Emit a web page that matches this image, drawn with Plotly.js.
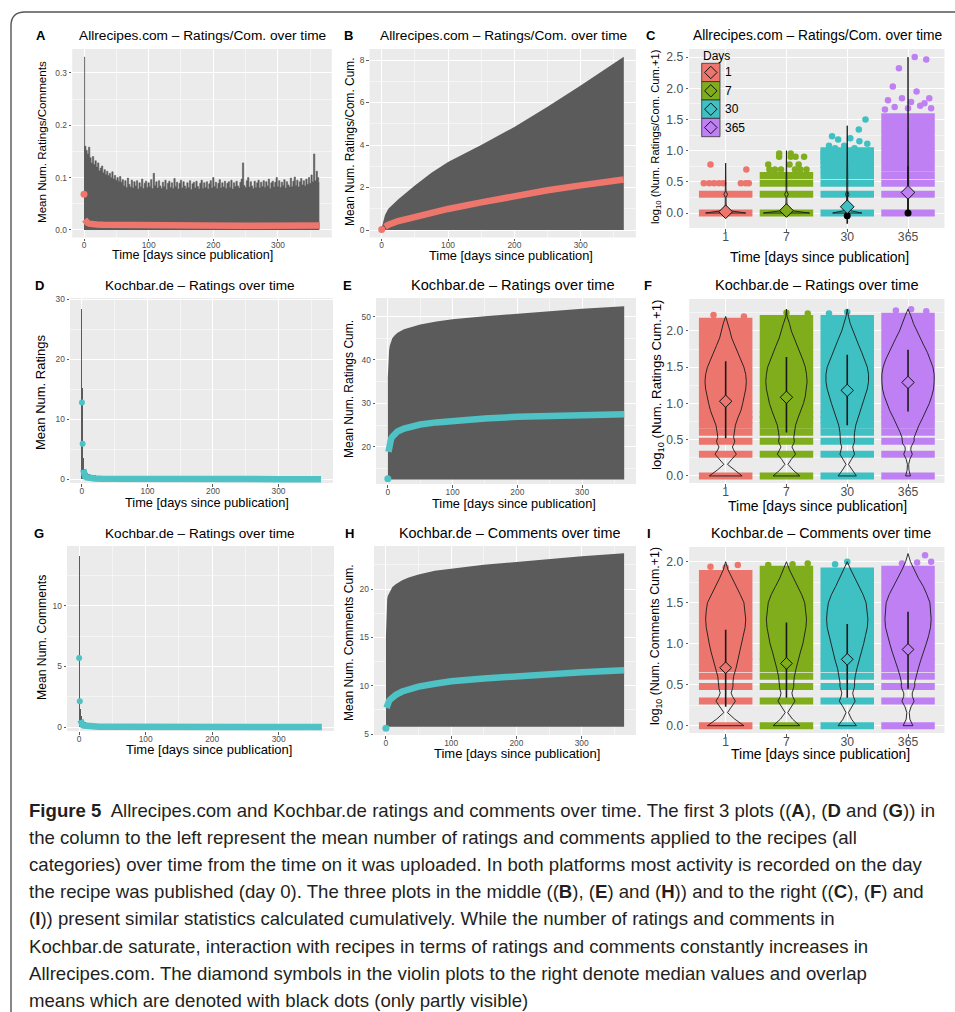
<!DOCTYPE html>
<html><head><meta charset="utf-8">
<script src="https://cdn.plot.ly/plotly-3.0.1.min.js"></script>
<style>html,body{margin:0;padding:0;background:#fff}</style>
</head><body><div id="chart" style="width:955px;height:1012px"></div>
<script>
// ================= DATA =================
// Panel A: Allrecipes mean ratings/comments per day (gray = upper range, red = mean)
const aGrayStep = 2; // days per gray value
const aGray = [
 0.33,0.16,0.152,0.145,0.158,0.138,0.128,0.14,0.125,0.132,
 0.12,0.128,0.113,0.118,0.122,0.109,0.115,0.106,0.112,0.104,
 0.108,0.1,0.111,0.097,0.104,0.095,0.1,0.093,0.102,0.091,
 0.096,0.084,0.094,0.081,0.099,0.087,0.082,0.095,0.08,0.092,
 0.084,0.094,0.078,0.09,0.082,0.097,0.079,0.089,0.093,0.081,
 0.09,0.083,0.096,0.079,0.108,0.085,0.092,0.08,0.094,0.084,
 0.079,0.091,0.083,0.095,0.077,0.089,0.093,0.081,0.09,0.079,
 0.098,0.083,0.091,0.078,0.089,0.095,0.08,0.092,0.084,0.079,
 0.09,0.081,0.094,0.077,0.088,0.091,0.08,0.093,0.083,0.078,
 0.089,0.095,0.079,0.09,0.081,0.092,0.078,0.088,0.094,0.08,
 0.1,0.083,0.091,0.079,0.089,0.096,0.08,0.09,0.082,0.093,
 0.079,0.089,0.092,0.081,0.095,0.078,0.09,0.083,0.093,0.084,
 0.08,0.091,0.097,0.128,0.085,0.081,0.094,0.1,0.082,0.092,
 0.084,0.079,0.093,0.081,0.09,0.095,0.08,0.091,0.083,0.094,
 0.081,0.092,0.084,0.097,0.079,0.09,0.093,0.082,0.091,0.1,
 0.083,0.094,0.081,0.091,0.085,0.096,0.08,0.092,0.086,0.082,
 0.099,0.083,0.093,0.101,0.085,0.095,0.082,0.092,0.098,0.086,
 0.094,0.084,0.097,0.087,0.1,0.089,0.105,0.092,0.145,0.094,
 0.112,0.1,0.09];
const aMeanDays = [0,1,2,3,5,8,12,20,30,50,80,120,180,250,320,365];
const aMean = [0.068,0.02,0.018,0.016,0.014,0.012,0.011,0.0105,0.0098,0.0092,0.0088,0.0085,0.0082,0.008,0.008,0.0082];

// Panel B: Allrecipes cumulative
const bDays = [0,5,10,25,50,75,100,150,200,250,300,365];
const bUpper = [0.1,0.7,1.0,1.45,2.1,2.7,3.2,4.0,4.85,5.8,6.8,8.15];
const bMean = [0.02,0.15,0.25,0.42,0.63,0.82,0.99,1.3,1.6,1.87,2.1,2.38];
const bBase = 0;

// Panel D: Kochbar ratings per day
const dGrayDays = [0,1,2,3,4,5,6,8,10,12,15,20];
const dGray = [28.3,15.2,3.6,2.2,1.7,1.4,1.2,1.0,0.9,0.85,0.75,0.7];
const dMeanDays = [0,1,2,3,4,5,7,10,15,20,30,50,100,150,200,250,300,365];
const dMean = [12.8,5.9,1.6,0.9,0.6,0.45,0.33,0.25,0.18,0.14,0.1,0.07,0.05,0.04,0.03,0.03,0.02,0.02];

// Panel G: Kochbar comments per day
const gGrayDays = [0,1,2,3,4,5,6,8,10,12,15,20];
const gGray = [14.1,5.0,1.5,0.9,0.7,0.6,0.5,0.45,0.4,0.35,0.3,0.3];
const gMeanDays = [0,1,2,3,4,5,7,10,15,20,30,50,100,150,200,250,300,365];
const gMean = [5.7,2.15,0.6,0.35,0.25,0.2,0.15,0.12,0.09,0.07,0.05,0.04,0.03,0.02,0.02,0.02,0.02,0.02];

// Panel E: Kochbar ratings cumulative
const eDays = [0,1,2,3,5,7,10,15,25,35,50,75,100,150,200,250,300,365];
const eUpper = [36,40,42.3,43.3,44.4,45,45.6,46.3,47.1,47.6,48.2,48.9,49.4,50.1,50.7,51.2,51.8,52.4];
const eMean = [12.6,18.8,20.3,21.0,21.8,22.3,22.9,23.5,24.2,24.6,25.1,25.6,26.0,26.5,26.9,27.1,27.3,27.5];
const eBase = 12.4;

// Panel H: Kochbar comments cumulative
const hDays = [0,1,2,3,5,7,10,15,25,35,50,75,100,150,200,250,300,365];
const hUpper = [15,18.3,19.0,19.3,19.6,19.9,20.2,20.5,20.9,21.2,21.5,21.9,22.1,22.5,22.8,23.1,23.4,23.7];
const hMean = [5.6,7.7,8.1,8.3,8.45,8.6,8.8,9.05,9.4,9.65,9.9,10.2,10.45,10.75,11.0,11.2,11.4,11.6];
const hBase = 5.75;

// Violin panels: categories
const cats = ['1','7','30','365'];
const catColors = ['#EC766D','#80AD1C','#3FC0C3','#BF80F4'];

// Panel C
const cBands = [[0,0.301],[0,0.301,0.477,0.602],[0,0.301,0.477,0.602,0.699,0.778,0.845,0.903,0.954,1.0],[0,0.301,0.477,0.602]];
const cBlockLo = [null,null,null,0.66];
const cBlockHi = [null,null,null,1.6];
const cDotCat = [1,1,1,1,1,1,1,1,1,1, 2,2,2,2,2,2,2,2,2,2,2,2,2,2,2, 3,3,3,3,3,3,3,3,3,3,3,3, 4,4,4,4,4,4,4,4,4,4,4,4,4,4,4];
const cDotDx = [-0.36,-0.27,-0.19,-0.11,-0.04,0.25,0.33,0.38,-0.25,0.34, -0.28,-0.19,-0.09,0.14,0.23,0.33,-0.3,0.05,0.2,-0.12,0.07,0.15,0.29,-0.12,0.07, -0.25,0.05,0.19,0.3,-0.15,0.2,0.33,-0.3,-0.05,0.12,-0.2,0.36, -0.15,0.11,0.3,-0.25,0.14,0.35,-0.33,-0.1,0.05,0.2,-0.22,0.38,-0.38,0.0,0.27];
const cDotY = [0.477,0.477,0.477,0.477,0.477,0.477,0.477,0.477,0.778,0.699, 0.699,0.699,0.699,0.699,0.699,0.699,0.778,0.778,0.778,0.903,0.903,0.903,0.903,0.954,0.954, 1.23,1.2,1.34,1.5,1.18,1.15,1.11,1.08,1.08,1.04,1.04,1.0, 2.32,2.5,2.46,2.03,1.95,1.84,1.81,1.84,1.78,1.72,1.7,1.68,1.66,1.68,1.76];
const cVy = [0,0.04,0.1,0.25,0.3,0.35,0.5,0.8,1.0,1.4,2.0,2.5];
const cVw = [
 [0.33,0.05,0.008,0.006,0.03,0.006,0.004,0,0,0,0,0],
 [0.38,0.06,0.01,0.006,0.03,0.006,0.006,0.004,0,0,0,0],
 [0.24,0.04,0.01,0.006,0.028,0.008,0.008,0.006,0.004,0,0,0],
 [0.02,0.006,0.005,0.005,0.025,0.008,0.01,0.008,0.006,0.004,0.002,0]];
const cLo = [-0.02,-0.03,-0.17,0.0];
const cHi = [0.12,0.15,0.35,0.75];
const cMed = [0.02,0.04,0.1,0.33];
const cMeanPt = [0.0,0.01,-0.045,0.0];

// Panel F
const fBands = [0,0.301,0.477,0.602,0.699,0.778,0.845];
const fBlockLo = [0.87,0.87,0.87,0.87];
const fBlockHi = [2.18,2.22,2.22,2.25];
const fDotCat = [1,1,2,2,3,3,4,4,4];
const fDotDx = [-0.2,0.3,0.0,0.35,0.0,-0.3,0.05,-0.2,0.3];
const fDotY = [2.22,2.2,2.25,2.24,2.26,2.24,2.3,2.28,2.27];
const fVy = [0,0.08,0.16,0.23,0.3,0.36,0.4,0.45,0.48,0.53,0.6,0.7,0.8,0.9,1.0,1.1,1.2,1.3,1.4,1.5,1.6,1.7,1.8,1.9,2.0,2.1,2.2,2.3];
const fVw = [
 [0.27,0.14,0.03,0.1,0.175,0.13,0.11,0.14,0.15,0.13,0.14,0.16,0.2,0.25,0.28,0.31,0.33,0.34,0.33,0.3,0.25,0.2,0.15,0.1,0.07,0.04,0,0],
 [0.22,0.11,0.025,0.08,0.15,0.11,0.09,0.12,0.13,0.12,0.13,0.15,0.19,0.24,0.28,0.31,0.33,0.34,0.33,0.31,0.27,0.22,0.17,0.12,0.08,0.05,0.01,0],
 [0.15,0.08,0.02,0.07,0.12,0.1,0.09,0.11,0.12,0.115,0.12,0.14,0.18,0.22,0.26,0.3,0.33,0.35,0.35,0.33,0.29,0.24,0.19,0.14,0.09,0.05,0.02,0],
 [0.04,0.015,0.01,0.03,0.07,0.045,0.05,0.09,0.1,0.1,0.13,0.18,0.24,0.3,0.35,0.39,0.42,0.43,0.43,0.41,0.37,0.32,0.26,0.2,0.14,0.09,0.05,0]];
const fLo = [0.52,0.60,0.70,0.89];
const fHi = [1.58,1.64,1.67,1.74];
const fMed = [1.03,1.085,1.18,1.29];

// Panel I
const iBands = [0,0.301,0.477,0.602,0.699,0.778,0.845];
const iBlockLo = [0.88,0.88,0.88,0.88];
const iBlockHi = [1.9,1.95,1.93,1.95];
const iDotCat = [1,1,1,2,2,2,3,3,4,4,4,4];
const iDotDx = [-0.25,0.0,0.2,0.1,-0.3,0.35,0.0,-0.2,0.28,0.38,-0.1,0.15];
const iDotY = [1.94,1.93,1.96,1.97,1.96,1.98,2.0,1.97,2.08,2.0,1.98,1.99];
const iVy = [0,0.08,0.16,0.23,0.3,0.36,0.4,0.45,0.48,0.53,0.6,0.7,0.8,0.9,1.0,1.1,1.2,1.3,1.4,1.5,1.6,1.7,1.8,1.9,2.0,2.1];
const iVw = [
 [0.3,0.15,0.03,0.09,0.16,0.11,0.09,0.11,0.12,0.12,0.13,0.17,0.2,0.24,0.27,0.3,0.32,0.33,0.32,0.3,0.24,0.17,0.1,0.04,0,0],
 [0.22,0.1,0.02,0.08,0.14,0.1,0.09,0.11,0.12,0.12,0.13,0.16,0.19,0.23,0.27,0.3,0.32,0.33,0.32,0.3,0.25,0.18,0.11,0.05,0,0],
 [0.15,0.07,0.02,0.07,0.13,0.1,0.09,0.11,0.12,0.12,0.13,0.16,0.2,0.24,0.27,0.3,0.33,0.34,0.33,0.31,0.26,0.19,0.12,0.06,0,0],
 [0.08,0.03,0.02,0.05,0.1,0.07,0.07,0.1,0.11,0.11,0.13,0.17,0.21,0.26,0.3,0.34,0.37,0.38,0.37,0.36,0.31,0.25,0.17,0.1,0.04,0]];
const iLo = [0.23,0.34,0.34,0.45];
const iHi = [1.17,1.26,1.24,1.39];
const iMed = [0.707,0.76,0.81,0.93];

// Text
const xTitle = 'Time [days since publication]';
const captionLines = [
 '<b>Figure 5</b>  Allrecipes.com and Kochbar.de ratings and comments over time. The first 3 plots ((<b>A</b>), (<b>D</b> and (<b>G</b>)) in',
 'the column to the left represent the mean number of ratings and comments applied to the recipes (all',
 'categories) over time from the time on it was uploaded. In both platforms most activity is recorded on the day',
 'the recipe was published (day 0). The three plots in the middle ((<b>B</b>), (<b>E</b>) and (<b>H</b>)) and to the right ((<b>C</b>), (<b>F</b>) and',
 '(<b>I</b>)) present similar statistics calculated cumulatively. While the number of ratings and comments in',
 'Kochbar.de saturate, interaction with recipes in terms of ratings and comments constantly increases in',
 'Allrecipes.com. The diamond symbols in the violin plots to the right denote median values and overlap',
 'means which are denoted with black dots (only partly visible)'];

// ================= LAYOUT HELPERS =================
const W = 955, H = 1012;
const px = x => x / W;
const py = y => 1 - y / H;
const GRAY = '#5b5b5b', RED = '#EF766D', CYAN = '#4FC2C5';
const FONT = 'Liberation Sans, Arial, Helvetica, sans-serif';

const panels = [
 {k:'A', box:[72.2,331.8,49,237.5], yr:[-0.0145,0.3455], dt:0.1, mn:0.05, fmt:'.1f', v:false},
 {k:'B', box:[369.6,635.9,49,237.5], yr:[-0.353,8.518], dt:2, mn:1, fmt:'', v:false},
 {k:'C', box:[689.2,944.5,49,228], yr:[-0.24,2.63], dt:0.5, mn:0.25, fmt:'.1f', v:true},
 {k:'D', box:[70,333,298,483], yr:[-0.62,30.2], dt:10, mn:5, fmt:'', v:false},
 {k:'E', box:[376,636,298,484], yr:[11.39,54.3], dt:10, mn:5, fmt:'', v:false},
 {k:'F', box:[689.2,944.5,299,483], yr:[-0.097,2.44], dt:0.5, mn:0.25, fmt:'.1f', v:true},
 {k:'G', box:[67,334,546,731], yr:[-0.3,14.91], dt:5, mn:2.5, fmt:'', v:false},
 {k:'H', box:[374,636,546,735], yr:[4.9,24.45], dt:5, mn:2.5, fmt:'', v:false},
 {k:'I', box:[689.2,944.5,547,733], yr:[-0.089,2.18], dt:0.5, mn:0.25, fmt:'.1f', v:true}
];

const layout = {
 width: W, height: H, margin:{l:0,r:0,t:0,b:0},
 paper_bgcolor:'#ffffff', plot_bgcolor:'#EBEBEB',
 showlegend:false, hovermode:false, bargap:0, barmode:'overlay',
 font:{family:FONT, color:'#000'},
 annotations:[], shapes:[]
};

panels.forEach((p,i)=>{
  const n = i===0 ? '' : String(i+1);
  const [l,r,t,b] = p.box;
  const tickfont = {size: p.v ? 12.2 : 8.4, color:'#4D4D4D', family:FONT};
  const common = {showgrid:true, gridcolor:'#FFFFFF', gridwidth:1, zeroline:false,
    ticks:'outside', ticklen:2.5, tickwidth:0.8, tickcolor:'#333', showline:false, tickfont, fixedrange:true};
  const xa = Object.assign({}, common, {domain:[px(l),px(r)], anchor:'y'+n, ticklabelstandoff: p.v ? -5 : -3});
  if (p.v) {
    Object.assign(xa, {range:[0.4,4.6], tickmode:'array', tickvals:[1,2,3,4], ticktext:cats});
  } else {
    Object.assign(xa, {range:[-18.25,383.25], tickmode:'linear', tick0:0, dtick:100,
      minor:{tick0:0, dtick:50, showgrid:true, gridcolor:'#FFFFFF', gridwidth:0.5, ticks:''}});
  }
  const ya = Object.assign({}, common, {domain:[py(b),py(t)], anchor:'x'+n, range:p.yr,
    tickmode:'linear', tick0:0, dtick:p.dt, tickformat:p.fmt,
    minor:{tick0:0, dtick:p.mn, showgrid:true, gridcolor:'#FFFFFF', gridwidth:0.5, ticks:''}});
  layout['xaxis'+n] = xa;
  layout['yaxis'+n] = ya;
});

// ================= TRACES =================
const traces = [];
const ax = i => (i===0 ? {xaxis:'x', yaxis:'y'} : {xaxis:'x'+(i+1), yaxis:'y'+(i+1)});
function sc(i, o){ return Object.assign({type:'scatter', hoverinfo:'skip', showlegend:false}, ax(i), o); }

// ---- A
traces.push(sc(0,{mode:'lines', x:aGray.map((v,k)=>k*aGrayStep), y:aGray, fill:'tozeroy',
  fillcolor:GRAY, line:{width:0.6, color:GRAY, shape:'hvh'}}));
traces.push(sc(0,{mode:'lines', x:aMeanDays.slice(1), y:aMean.slice(1), line:{color:RED, width:6.5}}));
traces.push(sc(0,{mode:'markers', x:aMeanDays.slice(0,1), y:aMean.slice(0,1), marker:{color:RED, size:7}}));

// ---- cumulative panels (B, E, H)
function cumPanel(i, days, upper, base, mean, color){
  traces.push(sc(i,{mode:'lines', x:days, y:days.map(()=>base), line:{width:0, color:GRAY}}));
  traces.push(sc(i,{mode:'lines', x:days, y:upper, fill:'tonexty', fillcolor:GRAY, line:{width:0, color:GRAY}}));
  traces.push(sc(i,{mode:'lines', x:days.slice(1), y:mean.slice(1), line:{color:color, width:6.5}}));
  traces.push(sc(i,{mode:'markers', x:days.slice(0,1), y:mean.slice(0,1), marker:{color:color, size:7}}));
}
cumPanel(1, bDays, bUpper, bBase, bMean, RED);
cumPanel(4, eDays, eUpper, eBase, eMean, CYAN);
cumPanel(7, hDays, hUpper, hBase, hMean, CYAN);

// ---- daily panels (D, G)
function dailyPanel(i, gDays, gVals, mDays, mVals){
  traces.push(Object.assign({type:'bar', hoverinfo:'skip', x:gDays, y:gVals, width:1.6,
    marker:{color:GRAY, line:{width:0}}}, ax(i)));
  traces.push(sc(i,{mode:'lines', x:mDays.slice(2), y:mVals.slice(2), line:{color:CYAN, width:6.5}}));
  traces.push(sc(i,{mode:'markers', x:mDays.slice(0,2), y:mVals.slice(0,2), marker:{color:CYAN, size:6}}));
}
dailyPanel(3, dGrayDays, dGray, dMeanDays, dMean);
dailyPanel(6, gGrayDays, gGray, gMeanDays, gMean);

// ---- violin panels
const JW = 0.44;
function violinPanel(i, bandsPerCat, blockLo, blockHi, dotCat, dotDx, dotY, vy, vw, lo, hi, med, medSize, meanPts){
  for (let c=0;c<4;c++){
    const col = catColors[c], cx = c+1;
    const bx=[], by=[];
    bandsPerCat[c].forEach(lv=>{ bx.push(cx-JW, cx+JW, null); by.push(lv, lv, null); });
    traces.push(sc(i,{mode:'lines', x:bx, y:by, line:{color:col, width:7}}));
    if (blockHi[c] !== null){
      traces.push(sc(i,{mode:'lines', x:[cx-JW,cx+JW,cx+JW,cx-JW,cx-JW],
        y:[blockLo[c],blockLo[c],blockHi[c],blockHi[c],blockLo[c]],
        fill:'toself', fillcolor:col, line:{width:0, color:col}}));
    }
  }
  traces.push(sc(i,{mode:'markers', x:dotCat.map((c,k)=>c+dotDx[k]), y:dotY,
    marker:{color:dotCat.map(c=>catColors[c-1]), size:6.5}}));
  const ox=[], oy=[];
  for (let c=0;c<4;c++){
    const w = vw[c], cx=c+1;
    let top = 0; w.forEach((v,k)=>{ if (v>0) top=k; });
    if (top < w.length-1) top++;
    for (let k=0;k<=top;k++){ ox.push(cx+w[k]); oy.push(vy[k]); }
    for (let k=top;k>=0;k--){ ox.push(cx-w[k]); oy.push(vy[k]); }
    ox.push(cx+w[0], null); oy.push(vy[0], null);
  }
  traces.push(sc(i,{mode:'lines', x:ox, y:oy, line:{color:'#1a1a1a', width:0.9}}));
  const rx=[], ry=[];
  for (let c=0;c<4;c++){ rx.push(c+1,c+1,null); ry.push(lo[c],hi[c],null); }
  traces.push(sc(i,{mode:'lines', x:rx, y:ry, line:{color:'#1a1a1a', width:1.6}}));
  if (meanPts) traces.push(sc(i,{mode:'markers', x:[1,2,3,4], y:meanPts, marker:{color:'#000', size:7}}));
  traces.push(sc(i,{mode:'markers', x:[1,2,3,4], y:med,
    marker:{symbol:'diamond', color:catColors, size:medSize, line:{color:'#111', width:1}}}));
}
violinPanel(2, cBands, cBlockLo, cBlockHi, cDotCat, cDotDx, cDotY, cVy, cVw, cLo, cHi, cMed, 10.5, cMeanPt);
violinPanel(5, [fBands,fBands,fBands,fBands], fBlockLo, fBlockHi, fDotCat, fDotDx, fDotY, fVy, fVw, fLo, fHi, fMed, 9.5, null);
violinPanel(8, [iBands,iBands,iBands,iBands], iBlockLo, iBlockHi, iDotCat, iDotDx, iDotY, iVy, iVw, iLo, iHi, iMed, 9, null);

// ================= ANNOTATIONS =================
function ann(text, x, y, o){
  layout.annotations.push(Object.assign({text, x:px(x), y:py(y), xref:'paper', yref:'paper',
    showarrow:false, xanchor:'center', yanchor:'middle', font:{family:FONT, size:12, color:'#000'}}, o||{}));
}
const titles = [
 ['A','Allrecipes.com – Ratings/Com. over time',41,202,35,13.7],
 ['B','Allrecipes.com – Ratings/Com. over time',348.5,503,35,13.7],
 ['C','Allrecipes.com – Ratings/Com. over time',651,818,35,13.8],
 ['D','Kochbar.de – Ratings over time',39,200,285,13.6],
 ['E','Kochbar.de – Ratings over time',347.5,513,285,14.6],
 ['F','Kochbar.de – Ratings over time',648,817,285,14.6],
 ['G','Kochbar.de – Ratings over time',39,199.5,533,13.6],
 ['H','Kochbar.de – Comments over time',349,510,533,14.4],
 ['I','Kochbar.de – Comments over time',648.5,821,533,14.3]
];
titles.forEach(t=>{
  ann('<b>'+t[0]+'</b>', t[2], t[4], {font:{family:FONT,size:13,color:'#000'}});
  ann(t[1], t[3], t[4], {font:{family:FONT,size:t[5],color:'#000'}});
});
const xTitles = [[192,255,12.6],[511,255,12.8],[819,257,14],[207,502,12.8],[514,503,12.8],[817,506,14],[209,749,13],[517,753,13],[820,754,14]];
xTitles.forEach(t=>ann(xTitle, t[0], t[1], {font:{family:FONT,size:t[2],color:'#000'}}));
const yTitles = [
 ['Mean Num. Ratings/Comments',42,142,11.6],
 ['Mean Num. Ratings/Com. Cum.',350,142,11.9],
 ['log<sub>10</sub> (Num. Ratings/Com. Cum.+1)',656,137,11.2],
 ['Mean Num. Ratings',40,393,13],
 ['Mean Num. Ratings Cum.',349,389,12],
 ['log<sub>10</sub> (Num. Ratings Cum.+1)',657,385,13.2],
 ['Mean Num. Comments',42,638,12.2],
 ['Mean Num. Comments Cum.',349,643,12.1],
 ['log<sub>10</sub> (Num. Comments Cum.+1)',656,636,12.4]
];
yTitles.forEach(t=>ann(t[0], t[1], t[2], {textangle:-90, font:{family:FONT,size:t[3],color:'#000'}}));

// legend in panel C
ann('Days', 701, 56, {xanchor:'left', font:{family:FONT,size:12,color:'#000'}});
cats.forEach((c,k)=>{
  const y0 = 63.3 + k*18.35, y1 = y0 + 18.35, cy = (y0+y1)/2, cx = 710.8, d = 6.2;
  layout.shapes.push({type:'rect', xref:'paper', yref:'paper', x0:px(701.7), x1:px(720), y0:py(y1), y1:py(y0),
    fillcolor:catColors[k], line:{color:'rgba(40,40,40,0.75)', width:1}, layer:'above'});
  layout.shapes.push({type:'path', xref:'paper', yref:'paper', layer:'above',
    path:`M ${px(cx)},${py(cy-d)} L ${px(cx+d)},${py(cy)} L ${px(cx)},${py(cy+d)} L ${px(cx-d)},${py(cy)} Z`,
    fillcolor:catColors[k], line:{color:'#111', width:1}});
  ann(c, 723, cy, {xanchor:'left', font:{family:FONT,size:12,color:'#000'}});
});

// frame
layout.shapes.push({type:'path', xref:'paper', yref:'paper', layer:'above',
  path:`M ${px(11)},${py(1020)} L ${px(11)},${py(26)} Q ${px(11)},${py(12)} ${px(25)},${py(12)} L ${px(965)},${py(12)}`,
  line:{color:'#555', width:1.4}});

// caption
captionLines.forEach((s,k)=>ann(s, 27, 810 + k*27.2, {xanchor:'left', align:'left',
  font:{family:FONT, size:18.6, color:'#231F20'}}));

Plotly.newPlot('chart', traces, layout, {staticPlot:true, displayModeBar:false});
</script></body></html>
